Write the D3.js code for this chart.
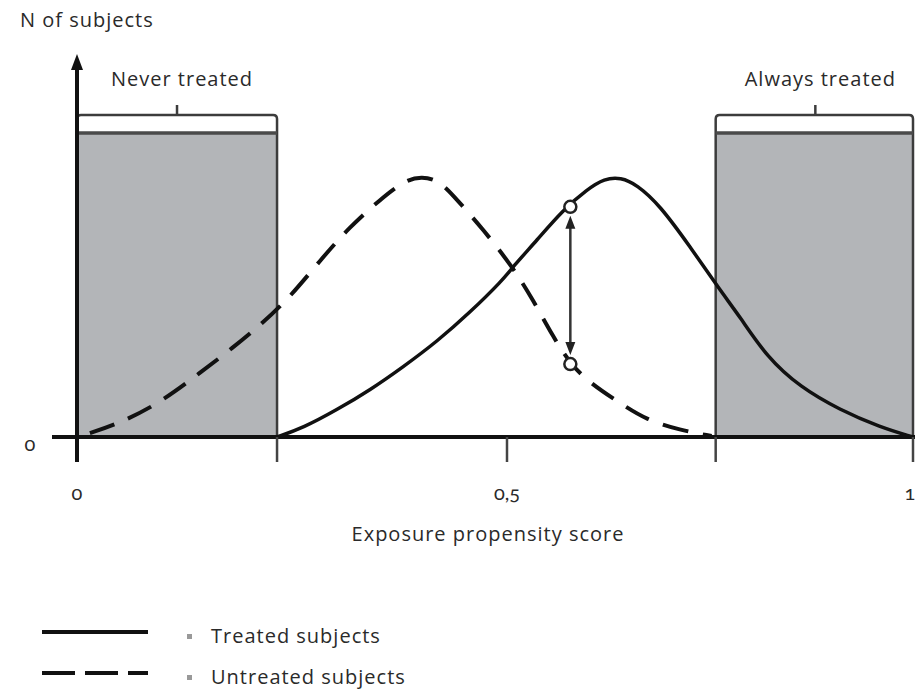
<!DOCTYPE html>
<html>
<head>
<meta charset="utf-8">
<script src="https://cdn.jsdelivr.net/npm/d3@7"></script>
<style>
  body { margin: 0; background: #fff; }
  svg text { font-family: "Open Sans", sans-serif; fill: #2a2a2a; font-size: 20px; letter-spacing: 1px; }
  svg text.num { font-family: Lato, sans-serif; font-feature-settings: "onum"; letter-spacing: 0; }
</style>
</head>
<body>
<div id="chart"></div>
<script>
// x ticks
const xTicks = [0, 0.5, 1];
const xTickLabels = ['0', '0,5', '1'];
// box edges (never / always treated)
const boxEdges = [0.2326, 0.757];
const boxes = [
  { label: 'Never treated', x0: 0, x1: 0.2326 },
  { label: 'Always treated', x0: 0.757, x1: 1.0 }
];
const boxHeight = 100;

// untreated (dashed)
const untreatedX = [0.015, 0.05, 0.0965, 0.143, 0.181, 0.216, 0.248, 0.283, 0.317, 0.352, 0.381, 0.401, 0.422, 0.442, 0.472, 0.507, 0.532, 0.557, 0.578, 0.602, 0.639, 0.672, 0.713, 0.752];
const untreatedY = [1.3, 4.6, 11.2, 21.1, 29.3, 37.5, 46.1, 58.2, 69.1, 78.0, 84.4, 85.8, 84.2, 78.0, 68.4, 55.9, 45.1, 32.9, 24.0, 17.8, 11.2, 5.6, 2.3, 0.3];
// treated (solid)
const treatedX = [0.2326, 0.263, 0.302, 0.341, 0.379, 0.419, 0.457, 0.495, 0.507, 0.537, 0.569, 0.599, 0.620, 0.640, 0.660, 0.688, 0.725, 0.762, 0.787, 0.820, 0.861, 0.910, 0.959, 1.0];
const treatedY = [0, 3.0, 8.9, 15.5, 23.0, 31.5, 41.0, 51.6, 55.9, 64.8, 74.7, 81.5, 85.0, 85.4, 83.0, 76.3, 62.8, 48.4, 39.5, 26.3, 16.4, 8.9, 3.3, 0];

// difference marker
const markerX = 0.578;
const markerTreated = 75.7;
const markerUntreated = 24.0;

const legendItems = [
  { label: 'Treated subjects', dash: null },
  { label: 'Untreated subjects', dash: '33,10' }
];

const width = 915, height = 691;

const svg = d3.select('#chart')
  .append('svg')
  .attr('width', width)
  .attr('height', height);

const x = d3.scaleLinear()
  .domain([0, 0.5, 1])
  .range([77, 507, 913]);

const y = d3.scaleLinear()
  .domain([0, boxHeight])
  .range([437, 133]);

// boxes
boxes.forEach(b => {
  const x0 = x(b.x0), x1 = x(b.x1);
  const top = y(boxHeight) - 18;
  svg.append('rect')
    .attr('x', x0).attr('y', y(boxHeight))
    .attr('width', x1 - x0).attr('height', y(0) - y(boxHeight))
    .attr('fill', '#b3b5b8');
  // bracket outline
  svg.append('path')
    .attr('d', `M${x0},${y(0)} V${top + 4} Q${x0},${top} ${x0 + 4},${top} H${x1 - 4} Q${x1},${top} ${x1},${top + 4} V${y(0)}`)
    .attr('fill', 'none')
    .attr('stroke', '#3c3c3c')
    .attr('stroke-width', 2.5);
  svg.append('line')
    .attr('x1', x0).attr('x2', x1)
    .attr('y1', y(boxHeight)).attr('y2', y(boxHeight))
    .attr('stroke', '#4a4a4a').attr('stroke-width', 3.5);
  const cx = (x0 + Math.min(x1, 913)) / 2 + (b.x0 > 0.5 ? 1 : 0);
  svg.append('line')
    .attr('x1', cx).attr('x2', cx)
    .attr('y1', top).attr('y2', top - 10)
    .attr('stroke', '#3c3c3c').attr('stroke-width', 2.5);
  svg.append('text')
    .attr('x', cx + 5).attr('y', 86)
    .attr('text-anchor', 'middle')
    .text(b.label);
});

const line = d3.line()
  .x(d => x(d[0]))
  .y(d => y(d[1]))
  .curve(d3.curveBasis);

svg.append('path')
  .datum(d3.zip(untreatedX, untreatedY))
  .attr('d', line)
  .attr('fill', 'none')
  .attr('stroke', '#111')
  .attr('stroke-width', 4)
  .attr('stroke-dasharray', '26,15');

svg.append('path')
  .datum(d3.zip(treatedX, treatedY))
  .attr('d', line)
  .attr('fill', 'none')
  .attr('stroke', '#111')
  .attr('stroke-width', 3.5);

// x axis
svg.append('line')
  .attr('x1', 52).attr('x2', width)
  .attr('y1', y(0)).attr('y2', y(0))
  .attr('stroke', '#111').attr('stroke-width', 4);

svg.append('g')
  .selectAll('line')
  .data(xTicks.concat(boxEdges))
  .join('line')
  .attr('x1', d => x(d)).attr('x2', d => x(d))
  .attr('y1', y(0)).attr('y2', y(0) + 25)
  .attr('stroke', '#444').attr('stroke-width', 2.5);

svg.append('g')
  .selectAll('text')
  .data(xTicks)
  .join('text')
  .attr('class', 'num')
  .attr('x', d => Math.min(x(d), 910))
  .attr('y', 500)
  .attr('text-anchor', 'middle')
  .text((d, i) => xTickLabels[i]);

svg.append('text')
  .attr('class', 'num')
  .attr('x', 30).attr('y', 451)
  .attr('text-anchor', 'middle')
  .text('0');

svg.append('text')
  .attr('x', 488).attr('y', 541)
  .attr('text-anchor', 'middle')
  .text('Exposure propensity score');

// y axis with arrow
svg.append('line')
  .attr('x1', x(0)).attr('x2', x(0))
  .attr('y1', y(0) + 25).attr('y2', 64)
  .attr('stroke', '#111').attr('stroke-width', 4);
svg.append('path')
  .attr('d', `M${x(0)},54 L${x(0) - 6},70 L${x(0) + 6},70 Z`)
  .attr('fill', '#111');

svg.append('text')
  .attr('x', 20).attr('y', 27)
  .text('N of subjects');

// difference arrow
const ax = x(markerX), ay1 = y(markerTreated) + 9, ay2 = y(markerUntreated) - 9;
svg.append('line')
  .attr('x1', ax).attr('x2', ax)
  .attr('y1', ay1 + 8).attr('y2', ay2 - 8)
  .attr('stroke', '#333').attr('stroke-width', 2.5);
svg.append('path')
  .attr('d', `M${ax},${ay1} L${ax - 5},${ay1 + 13} L${ax + 5},${ay1 + 13} Z M${ax},${ay2} L${ax - 5},${ay2 - 13} L${ax + 5},${ay2 - 13} Z`)
  .attr('fill', '#222');
svg.selectAll('circle.mark')
  .data([markerTreated, markerUntreated])
  .join('circle')
  .attr('class', 'mark')
  .attr('cx', ax)
  .attr('cy', d => y(d))
  .attr('r', 6)
  .attr('fill', '#fff')
  .attr('stroke', '#222')
  .attr('stroke-width', 2.5);

// legend
const legend = svg.append('g')
  .selectAll('g')
  .data(legendItems)
  .join('g')
  .attr('transform', (d, i) => `translate(0, ${632 + i * 41})`);
legend.append('line')
  .attr('x1', 42).attr('x2', 148)
  .attr('stroke', '#111').attr('stroke-width', 4)
  .attr('stroke-dasharray', d => d.dash);
legend.append('rect')
  .attr('x', 187).attr('y', 2).attr('width', 5).attr('height', 5)
  .attr('fill', '#999');
legend.append('text')
  .attr('x', 211).attr('y', 11)
  .text(d => d.label);
</script>
</body>
</html>
